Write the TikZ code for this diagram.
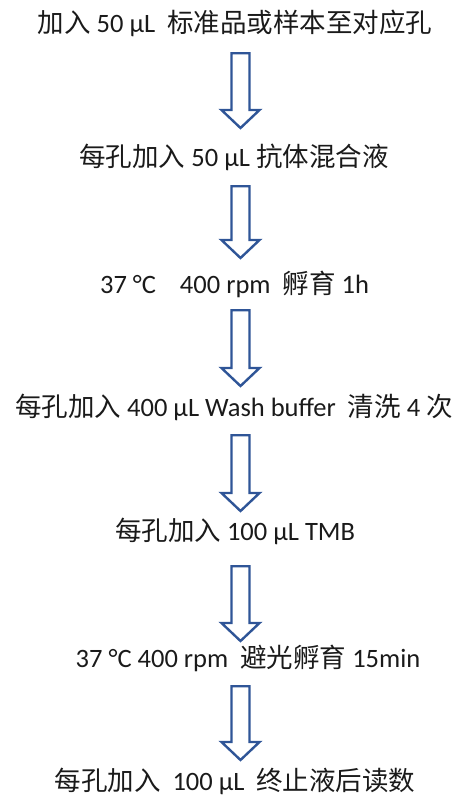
\documentclass[tikz,border=0pt]{standalone}
\usepackage{fontspec}
\setmainfont{Carlito}
\newfontfamily\cjk{Noto Sans CJK SC}
\definecolor{arrowblue}{HTML}{2F5597}
\definecolor{txt}{HTML}{1A1A1A}
\tikzset{
  steptext/.style={anchor=base, inner sep=0pt, text=txt, font=\fontsize{26.5}{30}\selectfont},
  blockarrow/.style={draw=arrowblue, line width=2.4pt, fill=white, line join=miter}
}
\newcommand{\blockarr}[2]{%
  \draw[blockarrow] (231.5,#1) -- (249.5,#1) -- (249.5,#2-18) -- (259.5,#2-18)
    -- (240.5,#2) -- (221.5,#2-18) -- (231.5,#2-18) -- cycle;}
\begin{document}
\begin{tikzpicture}[x=1pt,y=-1pt]
\useasboundingbox (0,0) rectangle (461,796);
\node[steptext] (s1) at (235,32) {\cjk 加入\normalfont{} 50 μL \ \cjk 标准品或样本至对应孔};
\node[steptext] (s2) at (234,166) {\cjk 每孔加入\normalfont{} 50 μL \cjk 抗体混合液};
\node[steptext] (s3) at (234.5,293) {37 °C \ \ \ 400 rpm \ \cjk 孵育\normalfont{} 1h};
\node[steptext] (s4) at (234,416) {\cjk 每孔加入\normalfont{} 400 μL Wash buffer \ \cjk 清洗\normalfont{} 4 \cjk 次};
\node[steptext] (s5) at (235,540) {\cjk 每孔加入\normalfont{} 100 μL TMB};
\node[steptext] (s6) at (248,667) {37 °C 400 rpm \ \cjk 避光孵育\normalfont{} 15min};
\node[steptext] (s7) at (235,790) {\cjk 每孔加入\normalfont{} \ 100 μL \ \cjk 终止液后读数};
\blockarr{53.2}{128}
\blockarr{186.2}{258}
\blockarr{310.2}{386}
\blockarr{435.2}{511}
\blockarr{566.2}{641}
\blockarr{686.2}{760}
\end{tikzpicture}
\end{document}
